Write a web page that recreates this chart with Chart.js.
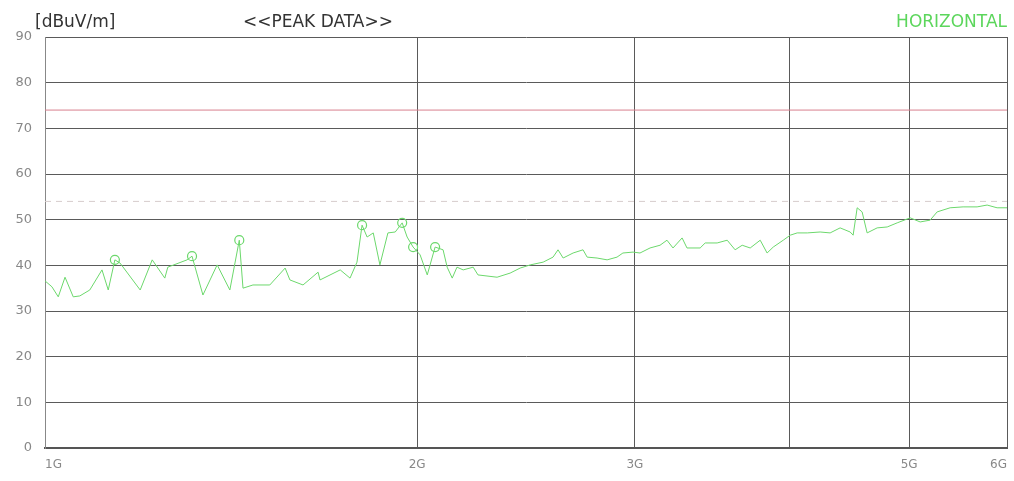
<!DOCTYPE html>
<html>
<head>
<meta charset="utf-8">
<script src="https://cdn.jsdelivr.net/npm/chart.js@4/dist/chart.umd.min.js"></script>
<style>
  html, body { margin: 0; padding: 0; background: #fff; }
  #wrap { position: relative; width: 1014px; height: 481px; }
  .hdr { position: absolute; top: 12px; font: 17px "DejaVu Sans", sans-serif; line-height: 18px; color: #333; white-space: nowrap; }
</style>
</head>
<body>
<div id="wrap">
  <canvas id="grafico" width="1014" height="481"></canvas>
  <div class="hdr" style="left:35px">[dBuV/m]</div>
  <div class="hdr" style="left:243px">&lt;&lt;PEAK DATA&gt;&gt;</div>
  <div class="hdr" style="right:7px;color:#5cd65c">HORIZONTAL</div>
</div>
<script>
// frecuencias en GHz, nivel en dBuV/m
const frecuencias = [1.000,1.013,1.025,1.038,1.054,1.067,1.087,1.112,1.125,1.139,
  1.150,1.194,1.221,1.250,1.257,1.303,1.315,1.342,1.378,1.411,
  1.436,1.446,1.473,1.520,1.564,1.578,1.617,1.663,1.669,1.733,
  1.765,1.788,1.805,1.822,1.843,1.866,1.894,1.920,1.945,1.963,
  1.985,2.011,2.038,2.068,2.099,2.115,2.135,2.154,2.179,2.220,
  2.240,2.321,2.378,2.423,2.469,2.529,2.576,2.600,2.625,2.674,
  2.724,2.745,2.796,2.849,2.902,2.934,2.990,3.029,3.086,3.144,
  3.185,3.221,3.276,3.306,3.388,3.420,3.497,3.563,3.616,3.664,
  3.719,3.789,3.838,3.882,3.955,4.007,4.059,4.136,4.236,4.316,
  4.397,4.480,4.505,4.539,4.581,4.624,4.711,4.800,4.890,5.010,
  5.104,5.200,5.268,5.397,5.529,5.675,5.782,5.890,6.000];
const niveles = [36.6,35.3,33.1,37.4,33.1,33.3,34.6,39.0,34.6,41.2,
  40.5,34.6,41.2,37.2,39.6,41.2,42.0,33.5,40.1,34.6,
  45.5,35.0,35.7,35.7,39.4,36.8,35.7,38.5,36.8,39.0,
  37.2,40.7,48.8,46.2,47.1,40.1,47.1,47.3,49.3,46.2,
  44.0,42.3,37.9,44.0,43.4,39.6,37.2,39.6,39.0,39.6,
  37.9,37.4,38.3,39.4,40.1,40.7,41.8,43.4,41.6,42.7,
  43.4,41.8,41.6,41.2,41.8,42.7,42.9,42.7,43.8,44.4,
  45.5,43.8,46.0,43.8,43.8,44.9,44.9,45.5,43.4,44.4,
  43.8,45.5,42.7,44.0,45.5,46.6,47.1,47.1,47.3,47.1,
  48.2,47.3,46.6,52.6,51.7,47.1,48.2,48.4,49.3,50.4,
  49.5,49.9,51.7,52.6,52.8,52.8,53.2,52.6,52.6];

// picos marcados
const picosFrec = [1.139,1.315,1.436,1.805,1.945,1.985,2.068];
const picosNivel = [41.2,42.0,45.5,48.8,49.3,44.0,44.0];

// lineas limite
const limitePico = 74;
const limiteMedio = 54;

const ticksX = [1,2,3,4,5,6];
const etiquetasX = ['1G','2G','3G','','5G','6G'];

const traza = frecuencias.map((f, i) => ({ x: f, y: niveles[i] }));
const picos = picosFrec.map((f, i) => ({ x: f, y: picosNivel[i] }));

new Chart(document.getElementById('grafico'), {
    type: 'line',
    data: {
        datasets: [{
            data: [{ x: 1, y: limitePico }, { x: 6, y: limitePico }],
            borderColor: '#d9808f',
            borderWidth: 1,
            pointRadius: 0
        }, {
            data: [{ x: 1, y: limiteMedio }, { x: 6, y: limiteMedio }],
            borderColor: '#d6cccc',
            borderWidth: 1,
            borderDash: [6, 5],
            pointRadius: 0
        }, {
            data: traza,
            borderColor: '#6cd86c',
            borderWidth: 1,
            pointRadius: 0,
            tension: 0
        }, {
            data: picos,
            showLine: false,
            pointRadius: 4.5,
            pointBorderWidth: 1.2,
            pointBorderColor: '#6cd86c',
            pointBackgroundColor: 'rgba(255,255,255,0)'
        }]
    },
    options: {
        responsive: false,
        animation: false,
        layout: { padding: { top: 37, right: 7, left: 0, bottom: 0 } },
        plugins: { legend: { display: false }, tooltip: { enabled: false } },
        scales: {
            x: {
                type: 'logarithmic',
                min: 1,
                max: 6,
                afterBuildTicks: axis => { axis.ticks = ticksX.map(v => ({ value: v })); },
                afterFit: axis => {
                    axis.height = 33;
                    axis.paddingLeft = 0;
                    axis.paddingRight = 0;
                },
                ticks: {
                    autoSkip: false,
                    maxRotation: 0,
                    align: 'inner',
                    padding: 10,
                    color: '#888',
                    font: { family: 'DejaVu Sans', size: 12 },
                    callback: (v) => etiquetasX[ticksX.indexOf(v)]
                },
                grid: { color: '#5a5a5a', lineWidth: 1, drawTicks: false },
                border: { color: '#555', width: 2 }
            },
            y: {
                min: 0,
                max: 90,
                afterFit: axis => { axis.width = 45; },
                ticks: {
                    stepSize: 10,
                    padding: 13,
                    color: '#888',
                    font: { family: 'DejaVu Sans', size: 13 }
                },
                grid: { color: '#5a5a5a', lineWidth: 1, drawTicks: false },
                border: { color: '#888', width: 1 }
            }
        }
    }
});
</script>
</body>
</html>
